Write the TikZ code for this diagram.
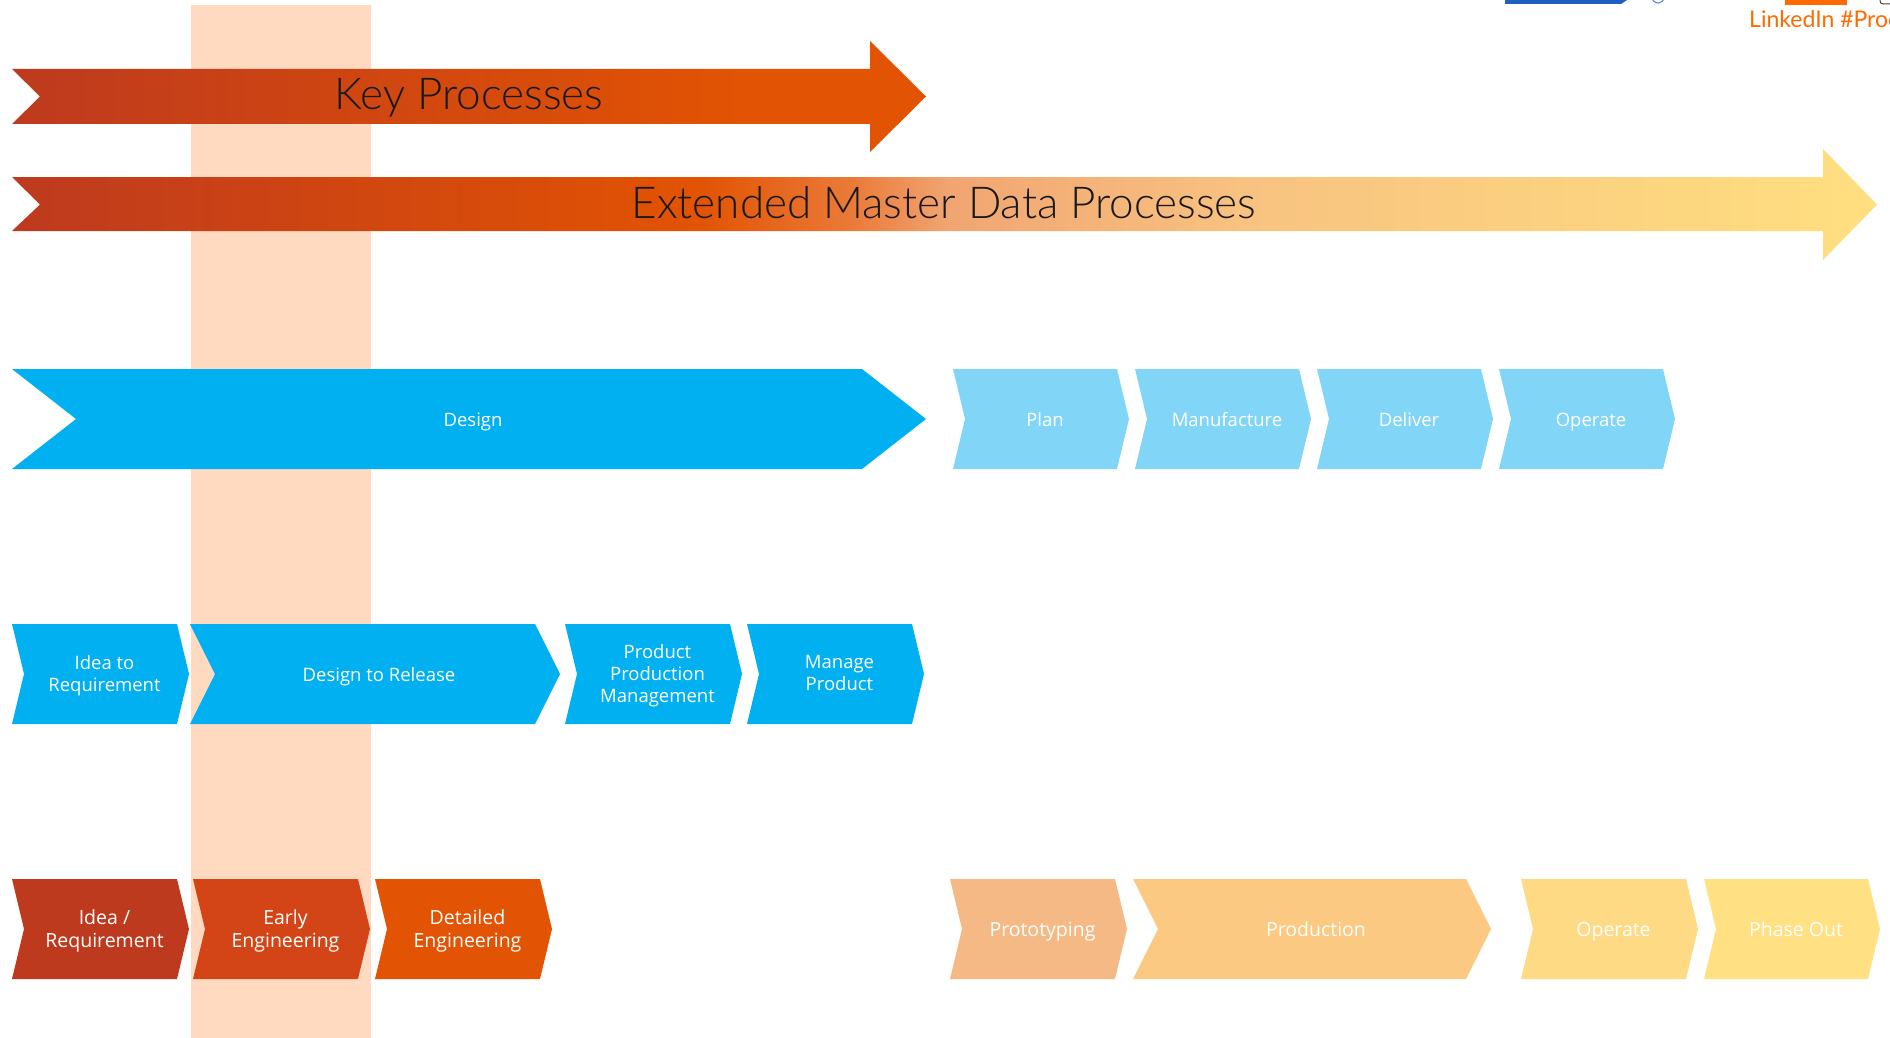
\documentclass[tikz,border=0pt]{standalone}
\usepackage{fontspec}
\setmainfont{Open Sans}
\IfFontExistsTF{Lato Light}{\newfontfamily\titlefont{Lato Light}}{\newfontfamily\titlefont{Lato}}
\newfontfamily\tagfont{Lato}

\definecolor{bandpeach}{HTML}{FFDAC0}
\definecolor{designblue}{HTML}{00B0F0}
\definecolor{paleblue}{HTML}{81D6F8}
\definecolor{ideared}{HTML}{BE3A1E}
\definecolor{earlyred}{HTML}{D34516}
\definecolor{detailorange}{HTML}{E25303}
\definecolor{protopeach}{HTML}{F4B984}
\definecolor{prodpeach}{HTML}{FBC982}
\definecolor{operateyellow}{HTML}{FEDA84}
\definecolor{phaseyellow}{HTML}{FFE083}
\definecolor{extmida}{HTML}{EA7A38}
\definecolor{extmidb}{HTML}{F1A572}
\definecolor{extmidc}{HTML}{F8C380}
\definecolor{extend}{HTML}{FFDF80}
\definecolor{tagorange}{HTML}{FF6A00}
\definecolor{tagblue}{HTML}{1F5FBF}

\pgfdeclarehorizontalshading{keyshade}{100bp}{color(0bp)=(ideared); color(25bp)=(ideared);
  color(65bp)=(detailorange); color(100bp)=(detailorange)}
\pgfdeclarehorizontalshading{extshade}{100bp}{color(0bp)=(ideared); color(25bp)=(ideared);
  color(43.4bp)=(detailorange); color(47.5bp)=(extmida); color(50.1bp)=(extmidb);
  color(58.2bp)=(extmidc); color(75bp)=(extend); color(100bp)=(extend)}

\tikzset{
  chevtext/.style={text=white, align=center, xshift=4pt, yshift=-2.6pt,
    font=\fontsize{18.5}{22}\selectfont,
    execute at begin node=\strut, execute at end node=\strut},
  lifetext/.style={chevtext, font=\fontsize{19.5}{23}\selectfont},
  titletext/.style={anchor=base, text=black!90, font=\titlefont\fontsize{44}{48}\selectfont}
}

% [text style]{fill}{name}{left}{right}{depth}{top}{text}
\newcommand{\chevron}[8][chevtext]{%
  \fill[#2] (#4,#7) -- (#5,#7) -- ({#5+#6},{#7+50}) -- (#5,{#7+100})
    -- (#4,{#7+100}) -- ({#4+#6},{#7+50}) -- cycle;
  \node[#1] (#3) at ({(#4+#5+#6)/2},{#7+50}) {#8};
}

\begin{document}
\begin{tikzpicture}[x=1pt, y=-1pt]
\useasboundingbox (0,0) rectangle (1890,1038);
\fill[bandpeach] (191,5) rectangle (371,1038);

\shade[shading=keyshade] (12,69) -- (870,69) -- (870,41) -- (926,96.5) -- (870,152)
  -- (870,124) -- (12,124) -- (40,96.5) -- cycle;
\node[titletext] (keyproc) at (469,110) {Key Processes};

\shade[shading=extshade] (12,177) -- (1823,177) -- (1823,149) -- (1877,204.5) -- (1823,260)
  -- (1823,231) -- (12,231) -- (40,204.5) -- cycle;
\node[titletext] (extproc) at (944,218) {Extended Master Data Processes};

\chevron{designblue}{design}{12}{862}{64}{369}{Design}
\foreach \i/\nm/\txt in {0/plan/Plan, 1/manufacture/Manufacture, 2/deliver/Deliver, 3/operate/Operate}
  {\chevron{paleblue}{\nm}{953+182*\i}{1117+182*\i}{12}{369}{\txt}}

\chevron{designblue}{idea}{12}{177}{12}{624}{Idea to\\Requirement}
\chevron{designblue}{release}{190}{535}{25}{624}{Design to Release}
\chevron{designblue}{ppm}{565}{730}{12}{624}{Product\\Production\\Management}
\chevron{designblue}{manage}{747}{912}{12}{624}{Manage\\Product}

\chevron[lifetext]{ideared}{ideareq}{12}{177}{12}{879}{Idea /\\Requirement}
\chevron[lifetext]{earlyred}{early}{193}{358}{12}{879}{Early\\Engineering}
\chevron[lifetext]{detailorange}{detailed}{375}{540}{12}{879}{Detailed\\Engineering}
\chevron[lifetext]{protopeach}{proto}{950}{1115}{12}{879}{Prototyping}
\chevron[lifetext]{prodpeach}{production}{1133}{1466}{25}{879}{Production}
\chevron[lifetext]{operateyellow}{operatelife}{1521}{1686}{12}{879}{Operate}
\chevron[lifetext]{phaseyellow}{phaseout}{1704}{1868}{12}{879}{Phase Out}

\fill[tagblue] (1505,0) -- (1627,0) -- (1621,4) -- (1505,4) -- cycle;
\draw[tagblue!70, line width=1.2] (1658,-3) circle[radius=6];
\fill[tagorange] (1785,0) rectangle (1847,5);
\draw[black!75, line width=1, rounded corners=3] (1880,-10) rectangle (1900,4);
\node[anchor=base west, inner sep=0, text=tagorange, font=\tagfont\fontsize{23}{26}\selectfont]
  (linkedin) at (1749,28) {LinkedIn \#Proc};
\end{tikzpicture}
\end{document}
